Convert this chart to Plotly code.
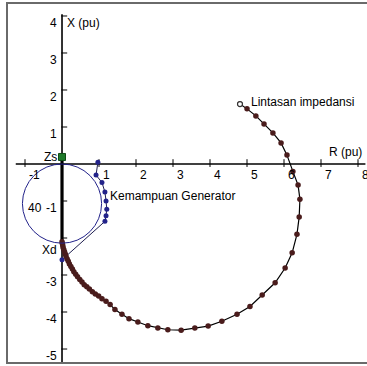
import plotly.graph_objects as go

# Impedance trajectory (R, X in pu), from the start point back toward Xd
traj_r = [4.81, 5.00, 5.24, 5.46, 5.70, 5.92, 6.08, 6.24, 6.38, 6.43, 6.41, 6.35,
          6.22, 6.03, 5.76, 5.41, 5.08, 4.73, 4.32, 3.95, 3.59, 3.22, 2.86, 2.59,
          2.32, 2.05, 1.81, 1.62, 1.43, 1.30, 1.19, 1.08, 0.99, 0.90, 0.82, 0.74,
          0.67, 0.60, 0.54, 0.48, 0.42, 0.37, 0.32, 0.28, 0.24, 0.20, 0.17, 0.14,
          0.11, 0.09, 0.07, 0.05, 0.03, 0.02, 0.01, 0.00]
traj_x = [1.62, 1.49, 1.30, 1.08, 0.84, 0.57, 0.24, -0.20, -0.57, -0.95, -1.43, -1.90,
          -2.40, -2.81, -3.21, -3.54, -3.85, -4.06, -4.25, -4.38, -4.43, -4.49, -4.48, -4.43,
          -4.37, -4.27, -4.18, -4.06, -3.93, -3.80, -3.71, -3.64, -3.57, -3.51, -3.45, -3.38,
          -3.32, -3.26, -3.19, -3.12, -3.05, -2.98, -2.91, -2.84, -2.77, -2.70, -2.63, -2.57,
          -2.50, -2.44, -2.38, -2.32, -2.26, -2.20, -2.15, -2.10]

# Generator capability limit
gen_r = [0.97, 0.92, 1.08, 1.16, 1.19, 1.21, 1.19, 1.16, 0.00]
gen_x = [0.05, -0.30, -0.50, -0.76, -1.00, -1.22, -1.40, -1.55, -2.59]

# Relay circle (centre on the X axis) and key points
circle_center = (0.0, -1.07)
circle_radius = 1.07
zs_point = (0.0, 0.19)
xd_point = (0.0, -2.10)

x_ticks = [-1, 1, 2, 3, 4, 5, 6, 7, 8]
x_tick_labels = ["-1", "1", "2", "3", "4", "5", "6", "7", "8"]
y_ticks = [-5, -4, -3, -2, -1, 1, 2, 3, 4]
y_tick_labels = ["-5", "-4", "-3", "", "-1", "1", "2", "3", "4"]

FONT = "Liberation Sans, Arial, sans-serif"
NAVY = "#23238a"
BROWN = "#4a1c1c"

fig = go.Figure()

# Axis lines
fig.add_trace(go.Scatter(x=[-1.25, 8.2], y=[0, 0], mode="lines",
                         line=dict(color="black", width=1.3), hoverinfo="skip"))
fig.add_trace(go.Scatter(x=[0, 0], y=[4.05, -5.35], mode="lines",
                         line=dict(color="black", width=1.6), hoverinfo="skip"))

# Tick marks
tx, ty = [], []
for t in x_ticks:
    tx += [t, t, None]
    ty += [0.13, -0.08, None]
for t in y_ticks:
    tx += [-0.02, 0.14, None]
    ty += [t, t, None]
fig.add_trace(go.Scatter(x=tx, y=ty, mode="lines",
                         line=dict(color="black", width=1), hoverinfo="skip"))

# Thick segment Zs -> Xd
fig.add_trace(go.Scatter(x=[zs_point[0], xd_point[0]], y=[zs_point[1], xd_point[1]],
                         mode="lines", line=dict(color="black", width=3.2),
                         hoverinfo="skip"))

# Generator capability curve
fig.add_trace(go.Scatter(x=gen_r, y=gen_x, mode="lines+markers",
                         line=dict(color="#202050", width=1),
                         marker=dict(color=NAVY, size=5), hoverinfo="skip"))

# Impedance trajectory
fig.add_trace(go.Scatter(x=traj_r, y=traj_x, mode="lines+markers",
                         line=dict(color="black", width=1.2),
                         marker=dict(color=BROWN, size=5.5), hoverinfo="skip"))
fig.add_trace(go.Scatter(x=[traj_r[0]], y=[traj_x[0]], mode="markers",
                         marker=dict(color="white", size=5,
                                     line=dict(color="#333333", width=1.2)),
                         hoverinfo="skip"))

# Zs point
fig.add_trace(go.Scatter(x=[zs_point[0]], y=[zs_point[1]], mode="markers",
                         marker=dict(color="#1f7a2a", size=7, symbol="square",
                                     line=dict(color="#0f4a15", width=1)),
                         hoverinfo="skip"))

# Relay circle
cx, cy = circle_center
fig.add_shape(type="circle", xref="x", yref="y",
              x0=cx - circle_radius, x1=cx + circle_radius,
              y0=cy - circle_radius, y1=cy + circle_radius,
              line=dict(color=NAVY, width=1))

# Frame
fig.add_shape(type="rect", xref="paper", yref="paper",
              x0=7 / 367, x1=1.05, y0=3 / 366, y1=1 - 3 / 366,
              line=dict(color="#6a6a6a", width=2))

ann = []
for t, lab in zip(x_ticks, x_tick_labels):
    ann.append(dict(x=t + 0.07, y=-0.31, text=lab, xanchor="left", yanchor="middle"))
for t, lab in zip(y_ticks, y_tick_labels):
    if lab:
        ann.append(dict(x=-0.1, y=t - 0.2, text=lab, xanchor="right", yanchor="middle"))
ann += [
    dict(x=0.12, y=3.81, text="X (pu)", xanchor="left", yanchor="middle"),
    dict(x=7.2, y=0.32, text="R (pu)", xanchor="left", yanchor="middle"),
    dict(x=-0.12, y=0.19, text="Zs", xanchor="right", yanchor="middle"),
    dict(x=-0.1, y=-2.32, text="Xd", xanchor="right", yanchor="middle"),
    dict(x=-0.95, y=-1.2, text="40", xanchor="left", yanchor="middle"),
    dict(x=5.08, y=1.68, text="Lintasan impedansi", xanchor="left", yanchor="middle"),
    dict(x=1.28, y=-0.86, text="Kemampuan Generator", xanchor="left", yanchor="middle"),
]
for a in ann:
    a.update(showarrow=False, font=dict(family=FONT, size=12, color="black"),
             xref="x", yref="y", borderpad=0)

fig.update_layout(
    width=367, height=366,
    margin=dict(l=0, r=0, t=0, b=0),
    paper_bgcolor="white", plot_bgcolor="white",
    showlegend=False,
    annotations=ann,
    xaxis=dict(range=[-1.676, 8.243], visible=False, fixedrange=True),
    yaxis=dict(range=[-5.459, 4.432], visible=False, fixedrange=True),
)

fig.write_html("out.html")
